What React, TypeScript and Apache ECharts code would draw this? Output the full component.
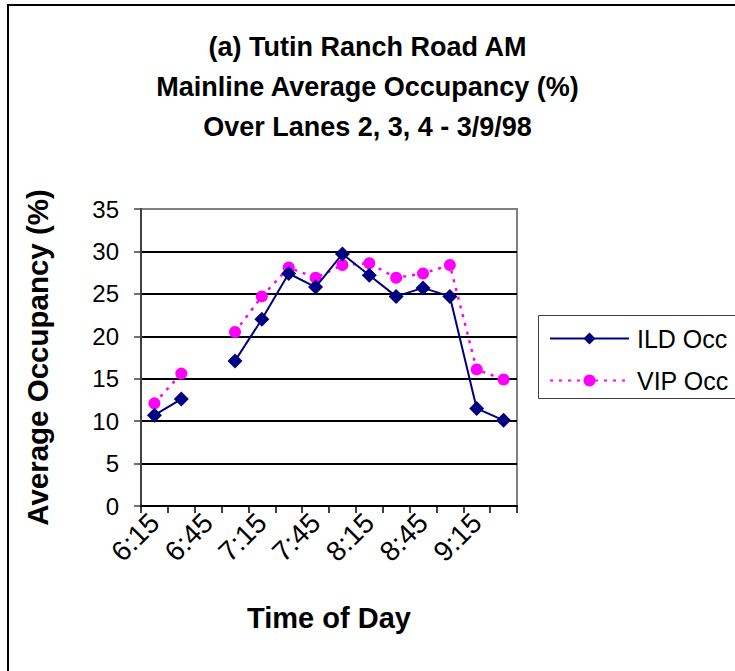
import React, { useEffect, useRef } from "react";
import * as echarts from "echarts";

// Time of day (15-minute intervals)
const timeLabels = [
  "6:15", "6:30", "6:45", "7:00", "7:15", "7:30", "7:45",
  "8:00", "8:15", "8:30", "8:45", "9:00", "9:15", "9:30",
];

// Mainline average occupancy (%) over lanes 2, 3, 4
const ildOcc = [10.7, 12.6, null, 17.1, 22.0, 27.4, 25.8, 29.7, 27.2, 24.7, 25.7, 24.7, 11.5, 10.1];
const vipOcc = [12.1, 15.6, null, 20.5, 24.7, 28.1, 26.9, 28.4, 28.6, 26.9, 27.4, 28.4, 16.1, 14.9];

const titleLines = [
  "(a) Tutin Ranch Road AM",
  "Mainline Average Occupancy (%)",
  "Over Lanes 2, 3, 4 - 3/9/98",
];

const FONT = "'Liberation Sans', Arial, Helvetica, sans-serif";

export default function App() {
  const ref = useRef<HTMLDivElement>(null);

  useEffect(() => {
    if (!ref.current) return;
    const chart = echarts.init(ref.current, null, { renderer: "svg" });
    chart.setOption({
      animation: false,
      backgroundColor: "#fff",
      textStyle: { fontFamily: FONT },
      title: {
        text: titleLines.join("\n"),
        left: "center",
        top: 22,
        textStyle: {
          fontFamily: FONT,
          fontSize: 27,
          fontWeight: "bold",
          color: "#000",
          lineHeight: 40,
        },
      },
      graphic: [
        {
          type: "rect",
          shape: { x: 8, y: 5, width: 900, height: 900 },
          style: { fill: "none", stroke: "#000", lineWidth: 2 },
          silent: true,
        },
        {
          type: "rect",
          shape: { x: 538.5, y: 315.5, width: 300, height: 83 },
          style: { fill: "#fff", stroke: "#404040", lineWidth: 1 },
          silent: true,
          z: -1,
        },
      ],
      legend: {
        data: ["ILD Occ", "VIP Occ"],
        orient: "vertical",
        left: 549,
        top: 326,
        padding: 0,
        itemWidth: 79,
        itemHeight: 15,
        itemGap: 17,
        textStyle: {
          fontFamily: FONT,
          fontSize: 25,
          color: "#000",
          padding: [0, 0, 0, 3],
        },
      },
      grid: {
        left: 141,
        top: 209,
        width: 376,
        height: 297,
        show: true,
        borderColor: "#808080",
        borderWidth: 2,
        backgroundColor: "#fff",
      },
      xAxis: {
        type: "category",
        data: timeLabels,
        boundaryGap: true,
        name: "Time of Day",
        nameLocation: "middle",
        nameGap: 97,
        nameTextStyle: { fontFamily: FONT, fontSize: 29, fontWeight: "bold", color: "#000" },
        axisLine: { lineStyle: { color: "#000", width: 2 } },
        axisTick: { show: true, interval: 0, length: 7, lineStyle: { color: "#000", width: 1.5 } },
        axisLabel: {
          interval: 1,
          rotate: 45,
          margin: 12,
          fontFamily: FONT,
          fontSize: 28,
          color: "#000",
        },
        splitLine: { show: false },
      },
      yAxis: {
        type: "value",
        min: 0,
        max: 35,
        interval: 5,
        name: "Average Occupancy (%)",
        nameLocation: "middle",
        nameRotate: 90,
        nameGap: 89,
        nameTextStyle: { fontFamily: FONT, fontSize: 29.5, fontWeight: "bold", color: "#000" },
        axisLine: { show: true, lineStyle: { color: "#404040", width: 2 } },
        axisTick: { show: true, length: 7, lineStyle: { color: "#404040", width: 1.5 } },
        axisLabel: { margin: 22, fontFamily: FONT, fontSize: 24, color: "#000" },
        splitLine: {
          show: true,
          lineStyle: {
            color: ["#000", "#000", "#000", "#000", "#000", "#000", "#000", "#808080"],
            width: 2,
          },
        },
      },
      series: [
        {
          name: "ILD Occ",
          type: "line",
          data: ildOcc,
          z: 3,
          symbol: "diamond",
          symbolSize: 15,
          connectNulls: false,
          itemStyle: { color: "#000080" },
          lineStyle: { color: "#000080", width: 2 },
        },
        {
          name: "VIP Occ",
          type: "line",
          data: vipOcc,
          z: 2,
          symbol: "circle",
          symbolSize: 12,
          connectNulls: false,
          itemStyle: { color: "#FF00FF" },
          lineStyle: { color: "#FF00FF", width: 2.5, type: [3, 6] },
        },
      ],
    });
    return () => chart.dispose();
  }, []);

  return (
    <div
      ref={ref}
      style={{ position: "fixed", left: 0, top: 0, width: 735, height: 671 }}
    />
  );
}
